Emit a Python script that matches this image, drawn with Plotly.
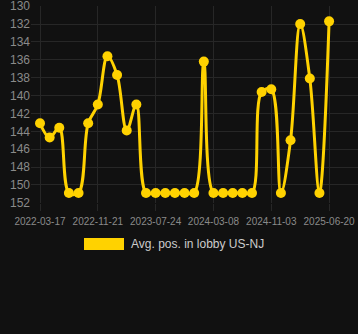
import plotly.graph_objects as go

dates = [
    "2022-03-17", "2022-04-28", "2022-06-08", "2022-07-20", "2022-08-31", "2022-10-11",
    "2022-11-21", "2023-01-01", "2023-02-11", "2023-03-24", "2023-05-04", "2023-06-14",
    "2023-07-24", "2023-08-31", "2023-10-08", "2023-11-15", "2023-12-23", "2024-01-30",
    "2024-03-08", "2024-04-17", "2024-05-27", "2024-07-06", "2024-08-15", "2024-09-24",
    "2024-11-03", "2024-12-11", "2025-01-18", "2025-02-25", "2025-04-04", "2025-05-12",
    "2025-06-20",
]
positions = [
    143.1, 144.7, 143.6, 150.9, 150.9, 143.1,
    141.0, 135.6, 137.7, 143.9, 141.0, 150.9,
    150.9, 150.9, 150.9, 150.9, 150.9, 136.2,
    150.9, 150.9, 150.9, 150.9, 150.9, 139.6,
    139.3, 150.9, 145.0, 132.0, 138.1, 150.9,
    131.7,
]
x_tick_labels = dates[::6]
y_ticks = [130, 132, 134, 136, 138, 140, 142, 144, 146, 148, 150, 152]
series_name = "Avg. pos. in lobby US-NJ"

GOLD = "#FFD200"
BG = "#111111"
GRID = "#272727"
TICK = "#8a8a8a"

fig = go.Figure()
fig.add_trace(go.Scatter(
    x=dates, y=positions, mode="lines+markers",
    line=dict(color=GOLD, width=3, shape="spline", smoothing=1.0),
    marker=dict(color=GOLD, size=10),
    name=series_name, showlegend=False, cliponaxis=False,
))

W_L, W_R, T, B = 31, 358, 6, 203
pw, ph = W_R - W_L, B - T

def px(x):
    return (x - W_L) / pw

def py(y):
    return (B - y) / ph

fig.add_shape(type="rect", xref="paper", yref="paper",
              x0=px(84), x1=px(124), y0=py(250), y1=py(238),
              fillcolor=GOLD, line=dict(width=0))
fig.add_annotation(xref="paper", yref="paper", x=px(129), y=py(244),
                   xanchor="left", yanchor="middle", showarrow=False,
                   text=series_name, font=dict(color="#cccccc", size=12,
                                               family="Liberation Sans, Arial, sans-serif"))

fig.update_layout(
    width=358, height=334,
    margin=dict(l=W_L, r=358 - W_R, t=T, b=334 - B, autoexpand=False),
    paper_bgcolor=BG, plot_bgcolor=BG,
    font=dict(family="Liberation Sans, Arial, sans-serif", color=TICK),
    xaxis=dict(
        type="category", range=[-0.934, 33.0], automargin=False,
        tickmode="array", tickvals=x_tick_labels, ticktext=x_tick_labels, tickangle=0,
        showgrid=True, gridcolor=GRID, gridwidth=1,
        ticks="outside", ticklen=7, tickcolor=GRID, ticklabelstandoff=2,
        tickfont=dict(size=10, color=TICK), zeroline=False, showline=False,
        ticklabeloverflow="allow",
    ),
    yaxis=dict(
        range=[152.02, 129.98], tickvals=y_ticks, automargin=False,
        showgrid=True, gridcolor=GRID, gridwidth=1,
        ticks="", tickfont=dict(size=12, color=TICK), zeroline=False, showline=False,
        ticklabeloverflow="allow",
    ),
)

fig.write_html("out.html")
